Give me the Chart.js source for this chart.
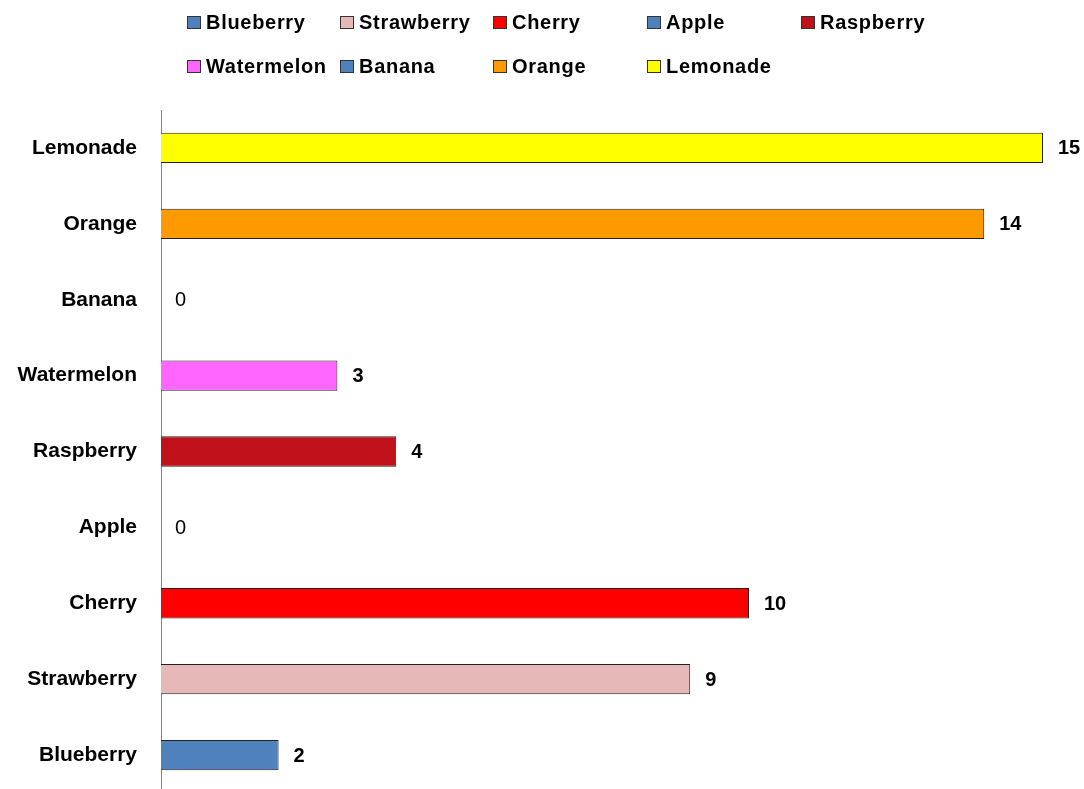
<!DOCTYPE html>
<html>
<head>
<meta charset="utf-8">
<script src="https://cdn.jsdelivr.net/npm/chart.js@4/dist/chart.umd.min.js"></script>
<style>
    html, body { margin: 0; padding: 0; background: #fff; overflow: hidden; }
    #wrap { width: 1084px; height: 793px; }
</style>
</head>
<body>
<div id="wrap"><canvas id="fruit-canvas"></canvas></div>
<script>
// data, in legend order (bottom bar first)
const fruits = ["Blueberry", "Strawberry", "Cherry", "Apple", "Raspberry", "Watermelon", "Banana", "Orange", "Lemonade"]
const counts = [2, 9, 10, 0, 4, 3, 0, 14, 15]
const fruitColors = ["#4F81BD", "#E6B9B8", "#FF0000", "#4F81BD", "#C0111B", "#FF66FF", "#4F81BD", "#FF9900", "#FFFF00"]

const FONT = "'Liberation Sans', Arial, sans-serif"

// legend drawn as a grid like the original (5 columns, 2 rows)
const gridLegend = {
    id: "gridLegend",
    afterDraw(chart) {
        const ctx = chart.ctx
        const colX = [187, 340, 493, 647, 801]
        const rowY = [22, 66]
        ctx.save()
        ctx.font = "bold 20px " + FONT
        ctx.letterSpacing = "0.7px"
        ctx.textBaseline = "middle"
        ctx.textAlign = "left"
        fruits.forEach((name, i) => {
            const x = colX[i % 5]
            const y = rowY[Math.floor(i / 5)]
            ctx.fillStyle = fruitColors[i]
            ctx.fillRect(x, y - 6, 14, 13)
            ctx.strokeStyle = "#333"
            ctx.lineWidth = 1
            ctx.strokeRect(x + 0.5, y - 5.5, 13, 12)
            ctx.fillStyle = "#000"
            ctx.fillText(name, x + 19, y + 1)
        })
        ctx.restore()
    }
}

// value labels at the end of each bar
const barValues = {
    id: "barValues",
    afterDatasetsDraw(chart) {
        const ctx = chart.ctx
        const meta = chart.getDatasetMeta(0)
        ctx.save()
        ctx.textBaseline = "middle"
        ctx.textAlign = "left"
        ctx.fillStyle = "#000"
        meta.data.forEach((bar, i) => {
            const v = counts[i]
            ctx.font = (v === 0 ? "" : "bold ") + "20px " + FONT
            ctx.fillText(String(v), bar.x + (v === 0 ? 14 : 15), bar.y + 1)
        })
        ctx.restore()
    }
}

const fruitCanvas = document.querySelector("#fruit-canvas")

const fruitChart = new Chart(fruitCanvas, {
    type: "bar",
    data: {
        labels: fruits,
        datasets: [{
            label: "Count",
            data: counts,
            backgroundColor: fruitColors,
            borderColor: "#222",
            borderWidth: 1,
            borderSkipped: "left",
            barPercentage: 0.4,
            categoryPercentage: 1
        }]
    },
    options: {
        indexAxis: "y",
        responsive: true,
        maintainAspectRatio: false,
        animation: false,
        layout: {
            padding: { top: 110, right: 41, bottom: 0, left: 0 }
        },
        scales: {
            x: {
                display: false,
                min: 0,
                max: 15
            },
            y: {
                reverse: true,
                grid: { display: true, color: "transparent", drawTicks: false },
                border: { display: true, color: "#868686", width: 1 },
                ticks: {
                    color: "#000",
                    padding: 24,
                    font: { family: FONT, size: 21, weight: "bold" }
                },
                afterFit(scale) {
                    scale.width = 161
                    scale.paddingTop = 0
                    scale.paddingBottom = 0
                }
            }
        },
        plugins: {
            legend: { display: false },
            tooltip: { enabled: false }
        }
    },
    plugins: [gridLegend, barValues]
})
</script>
</body>
</html>
